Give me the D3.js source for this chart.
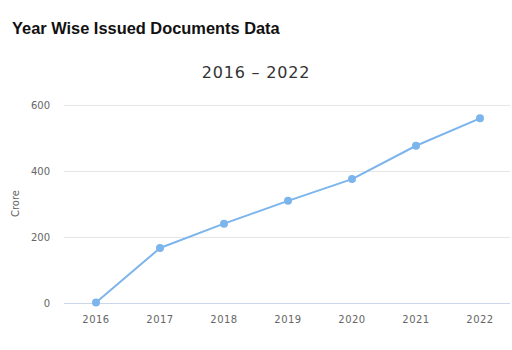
<!DOCTYPE html>
<html>
<head>
<meta charset="utf-8">
<script src="https://cdn.jsdelivr.net/npm/d3@7"></script>
<style>
html,body{margin:0;padding:0;background:#fff;}
svg{display:block;}
</style>
</head>
<body>
<svg id="chart" width="512" height="350"></svg>
<script>
const years = ["2016","2017","2018","2019","2020","2021","2022"];
const values = [0, 165, 239, 308, 374, 475, 558];
const yTicks = [0, 200, 400, 600];
const titleText = "Year Wise Issued Documents Data";
const subtitleText = "2016 – 2022";
const yAxisTitle = "Crore";

const svg = d3.select("#chart");
const W = 512, H = 350;
const m = {left: 64, right: 0, top: 104.5, bottom: 47.5};

const x = d3.scaleBand().domain(years).range([m.left, W - m.right]);
const y = d3.scaleLinear().domain([0, 600]).range([H - m.bottom, m.top]);

const tickFont = "'DejaVu Sans', Verdana, sans-serif";

// gridlines
svg.append("g").selectAll("line").data(yTicks.filter(d => d !== 0)).join("line")
  .attr("x1", m.left).attr("x2", W - m.right - 2)
  .attr("y1", d => Math.round(y(d)) + 0.5).attr("y2", d => Math.round(y(d)) + 0.5)
  .attr("stroke", "#e6e6e6").attr("stroke-width", 1);

// x axis line
svg.append("line")
  .attr("x1", m.left).attr("x2", W - m.right - 2)
  .attr("y1", Math.round(y(0)) + 0.5).attr("y2", Math.round(y(0)) + 0.5)
  .attr("stroke", "#ccd6eb").attr("stroke-width", 1);

// y tick labels
svg.append("g").selectAll("text").data(yTicks).join("text")
  .attr("x", 50).attr("y", d => y(d) + 4)
  .attr("text-anchor", "end")
  .attr("font-family", tickFont).attr("font-size", 10)
  .attr("fill", "#666").text(d => d);

// x tick labels
svg.append("g").selectAll("text").data(years).join("text")
  .attr("x", d => x(d) + x.bandwidth() / 2).attr("y", 323)
  .attr("text-anchor", "middle")
  .attr("font-family", tickFont).attr("font-size", 10)
  .attr("fill", "#666").attr("letter-spacing", 0.5).text(d => d);

// y axis title
svg.append("text")
  .attr("transform", `translate(19,${(y(0) + y(600)) / 2}) rotate(-90)`)
  .attr("text-anchor", "middle")
  .attr("font-family", tickFont).attr("font-size", 10)
  .attr("fill", "#666").text(yAxisTitle);

// line
const line = d3.line()
  .x((d, i) => x(years[i]) + x.bandwidth() / 2)
  .y(d => y(d));
svg.append("path").datum(values)
  .attr("d", line)
  .attr("fill", "none").attr("stroke", "#7cb5ec").attr("stroke-width", 2)
  .attr("stroke-linejoin", "round");

svg.append("g").selectAll("circle").data(values).join("circle")
  .attr("cx", (d, i) => x(years[i]) + x.bandwidth() / 2)
  .attr("cy", d => y(d)).attr("r", 4)
  .attr("fill", "#7cb5ec");

// titles
svg.append("text").attr("x", 12).attr("y", 34)
  .attr("font-family", "'Liberation Sans', Arial, sans-serif")
  .attr("font-size", 16.4).attr("font-weight", "bold")
  .attr("fill", "#111").text(titleText);

svg.append("text").attr("x", 256).attr("y", 78)
  .attr("text-anchor", "middle")
  .attr("font-family", tickFont).attr("font-size", 16)
  .attr("fill", "#333").attr("letter-spacing", 0.8).text(subtitleText);
</script>
</body>
</html>
